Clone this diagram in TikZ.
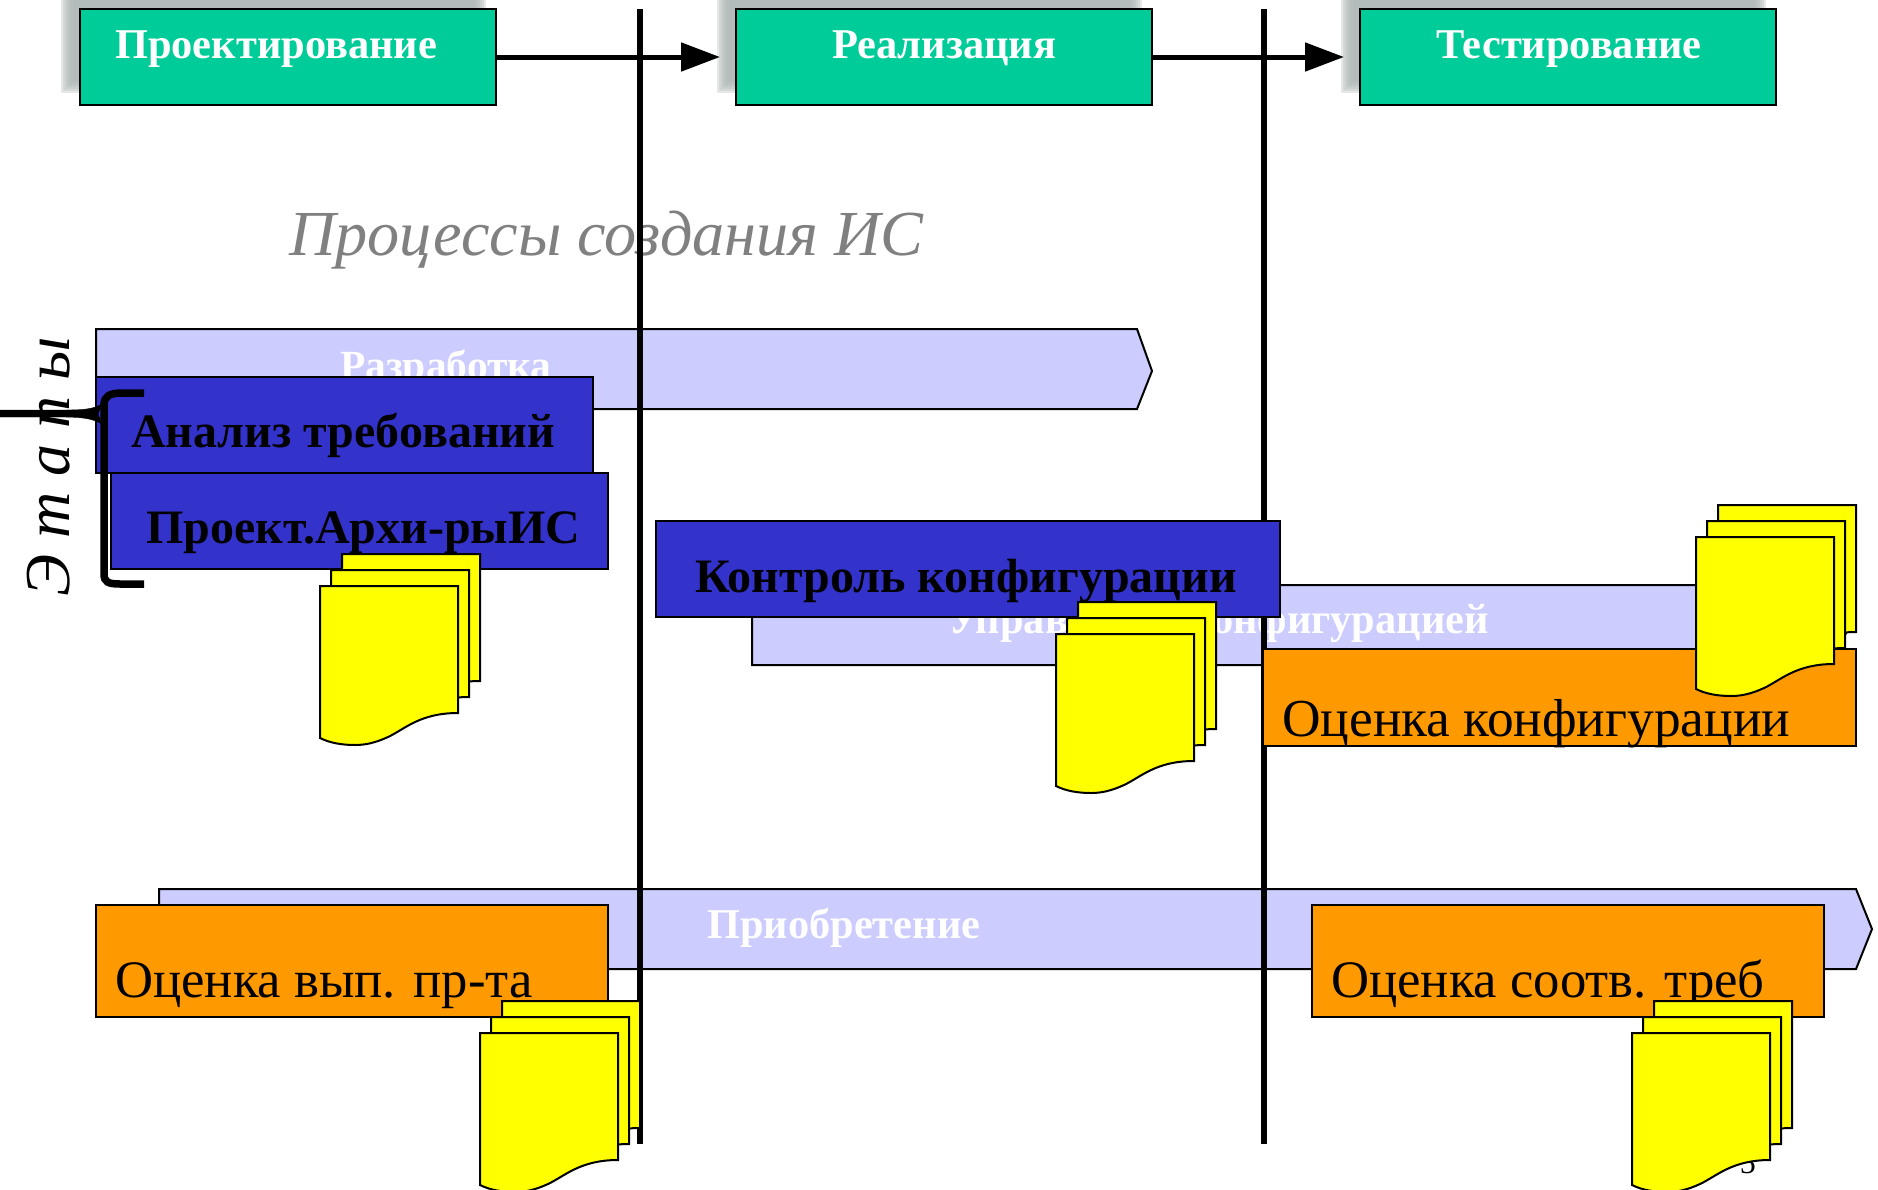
\documentclass[tikz,border=0pt]{standalone}
\usepackage{fontspec}
\setmainfont{Liberation Serif}
\usetikzlibrary{arrows.meta}
\definecolor{phasegreen}{RGB}{0,204,153}
\definecolor{phaseshade}{RGB}{172,182,180}
\definecolor{lavender}{RGB}{204,204,255}
\definecolor{stepblue}{RGB}{51,51,204}
\definecolor{evalorange}{RGB}{255,153,0}
\definecolor{docyellow}{RGB}{255,255,0}
\tikzset{
	phasebox/.style={draw=black, line width=2bp, fill=phasegreen, anchor=north west, inner sep=0pt, outer sep=0pt, minimum width=416bp, minimum height=96bp},
	stepbox/.style={draw=black, line width=2bp, fill=stepblue, anchor=north west, inner sep=0pt, outer sep=0pt, minimum height=96bp},
	evalbox/.style={draw=black, line width=2bp, fill=evalorange, anchor=north west, inner sep=0pt, outer sep=0pt},
	lane/.style={draw=black, line width=2bp, fill=lavender},
	sheet/.style={draw=black, line width=2bp, fill=docyellow},
	phasetext/.style={anchor=base west, inner sep=0pt, text=white, font=\fontsize{42.4bp}{50bp}\selectfont\bfseries},
	steptext/.style={anchor=base west, inner sep=0pt, font=\fontsize{48bp}{54bp}\selectfont\bfseries},
	evaltext/.style={anchor=base west, inner sep=0pt, font=\fontsize{52.7bp}{58bp}\selectfont}
}
% one page with wavy lower edge, #1 #2 = upper left corner
\newcommand{\docsheet}[2]{
	\begin{scope}[shift={(#1,#2)}]
		\filldraw[sheet] (0,0) -- (138,0) -- (138,127) .. controls (100,127) and (85,143) .. (68,151) .. controls (55,157) and (45,159) .. (35,159) .. controls (22,159) and (10,157) .. (0,152) -- cycle;
	\end{scope}
}
\newcommand{\docstack}[2]{
	\docsheet{#1+22}{#2-32}
	\docsheet{#1+11}{#2-16}
	\docsheet{#1}{#2}
}
\begin{document}
\begin{tikzpicture}[x=1bp, y=-1bp]
	\useasboundingbox (0,0) rectangle (1878,1189);

	% blurred shadows of the phases
	\foreach \x in {80,736,1360} {
		\foreach \b in {6,4,2,0,-2,-4,-6} {
			\fill[phaseshade, opacity=0.3] (\x-13-\b,-20) rectangle (\x+400+\b,87+\b);
		}
	}

	% phases
	\node[phasebox] (design) at (80,9) {};
	\node[phasebox] (build) at (736,9) {};
	\node[phasebox] (test) at (1360,9) {};
	\draw[line width=5bp, -{Triangle[length=39bp, width=28bp]}, shorten >=16bp] (design.east) -- (build.west);
	\draw[line width=5bp, -{Triangle[length=39bp, width=28bp]}, shorten >=16bp] (build.east) -- (test.west);
	\node[phasetext] (designtext) at (115,58) {Проектирование};
	\node[phasetext] (buildtext) at (832,58) {Реализация};
	\node[phasetext] (testtext) at (1436,58) {Тестирование};

	% title
	\node[anchor=base west, inner sep=0pt, text=black!50!white, font=\fontsize{64.2bp}{70bp}\selectfont\itshape] (title) at (289,255) {Процессы создания ИС};

	% process lanes
	\filldraw[lane] (96,329) -- (1137,329) -- (1152,371) -- (1137,409) -- (96,409) -- cycle;
	\node[phasetext, font=\fontsize{41.5bp}{50bp}\selectfont\bfseries] (devtext) at (340,379) {Разработка};
	\filldraw[lane] (752,585) -- (1830,585) -- (1850,625) -- (1830,665) -- (752,665) -- cycle;
	\node[phasetext] (conftext) at (948,633) {Управление конфигурацией};
	\filldraw[lane] (159,889) -- (1856,889) -- (1872,929) -- (1856,969) -- (159,969) -- cycle;
	\node[phasetext] (buytext) at (707,938) {Приобретение};

	% phase borders
	\coordinate (bordera) at (640,9);
	\coordinate (borderb) at (1264,9);
	\draw[line width=5.5bp] (bordera) -- ++(0,1135);
	\draw[line width=5.5bp] (borderb) -- ++(0,1135);

	% steps of the lanes
	\node[stepbox, minimum width=497bp] (needs) at (96,377) {};
	\node[steptext] (needstext) at (131,447) {Анализ требований};
	\node[stepbox, minimum width=497bp] (arch) at (111,473) {};
	\node[steptext] (archtext) at (146,543) {Проект.Архи-рыИС};
	\node[stepbox, minimum width=624bp] (control) at (656,521) {};
	\node[steptext] (controltext) at (695,592) {Контроль конфигурации};
	\node[evalbox, minimum width=593bp, minimum height=97bp] (evalconf) at (1263,649) {};
	\node[evaltext, font=\fontsize{53.4bp}{58bp}\selectfont] (evalconftext) at (1282,736) {Оценка конфигурации};
	\node[evalbox, minimum width=512bp, minimum height=112bp] (evalwork) at (96,905) {};
	\node[evaltext] (evalworktext) at (115,997) {Оценка вып. пр-та};
	\node[evalbox, minimum width=512bp, minimum height=112bp] (evalreq) at (1312,905) {};
	\node[evaltext] (evalreqtext) at (1331,997) {Оценка соотв. треб};

	% page number behind the last documents
	\node[anchor=base east, inner sep=0pt, font=\fontsize{32bp}{36bp}\selectfont] (pagenum) at (1756,1173) {5};

	% documents
	\docstack{320}{586}
	\docstack{1056}{634}
	\docstack{1696}{537}
	\docstack{480}{1033}
	\docstack{1632}{1033}

	% stages brace and its label
	\node[rotate=90, anchor=base west, inner sep=0pt, font=\fontsize{64bp}{70bp}\selectfont\itshape] (stages) at (69,597) {Э т а п ы};
	\draw[line width=7.5bp] (144,393) -- (122,393) .. controls (110,393) and (104,396) .. (104,405) -- (104,574) .. controls (104,582) and (108,584) .. (120,584) -- (144,584);
	\filldraw (0,410) -- (60,410) .. controls (80,410) and (92,410) .. (102,404) -- (98,414) -- (102,424) .. controls (92,418) and (80,417) .. (60,417) -- (0,417) -- cycle;
\end{tikzpicture}
\end{document}
